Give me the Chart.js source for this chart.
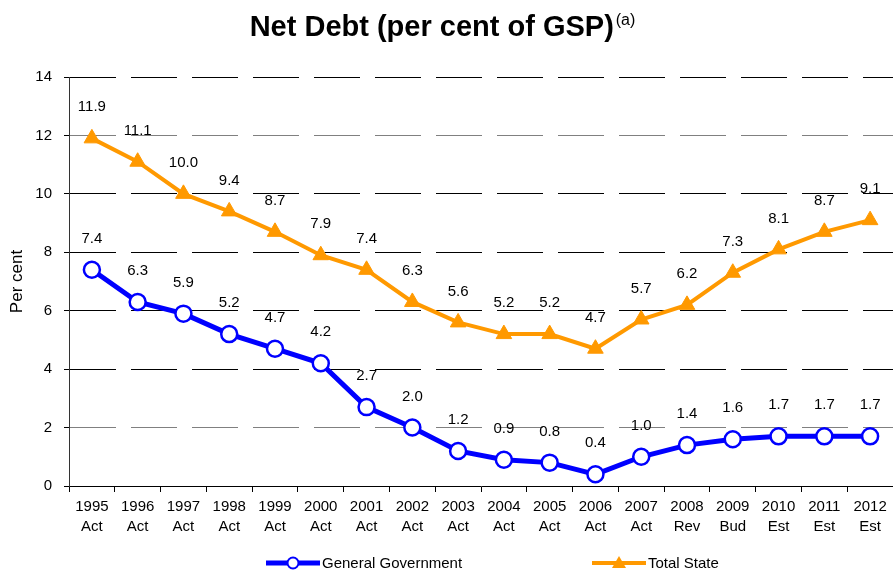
<!DOCTYPE html>
<html>
<head>
<meta charset="utf-8">
<script src="https://cdn.jsdelivr.net/npm/chart.js@4/dist/chart.umd.min.js"></script>
<style>
html,body{margin:0;padding:0;background:#fff;}
#wrap{width:893px;height:571px;position:relative;}
</style>
</head>
<body>
<div id="wrap"><canvas id="c" width="893" height="571"></canvas></div>
<script>
// ---- Data ----
const years = ['1995','1996','1997','1998','1999','2000','2001','2002','2003','2004','2005','2006','2007','2008','2009','2010','2011','2012'];
const budgetStatus = ['Act','Act','Act','Act','Act','Act','Act','Act','Act','Act','Act','Act','Act','Rev','Bud','Est','Est','Est'];
const generalGovernment = [7.4, 6.3, 5.9, 5.2, 4.7, 4.2, 2.7, 2.0, 1.2, 0.9, 0.8, 0.4, 1.0, 1.4, 1.6, 1.7, 1.7, 1.7];
const totalState = [11.9, 11.1, 10.0, 9.4, 8.7, 7.9, 7.4, 6.3, 5.6, 5.2, 5.2, 4.7, 5.7, 6.2, 7.3, 8.1, 8.7, 9.1];
const yMin = 0, yMax = 14, yStep = 2;
const chartTitle = 'Net Debt (per cent of GSP)';
const titleNote = '(a)';
const yAxisTitle = 'Per cent';
const seriesNames = ['General Government', 'Total State'];

// ---- Styles ----
const FONT = '"Liberation Sans", Arial, Helvetica, sans-serif';
const BLUE = '#0000FF';
const ORANGE = '#FF9900';

const categoryLabels = years.map((y, i) => [y, budgetStatus[i]]);

const titlePlugin = {
  id: 'titleWithNote',
  afterDraw(chart) {
    const ctx = chart.ctx;
    ctx.save();
    ctx.fillStyle = '#000';
    ctx.textBaseline = 'alphabetic';
    ctx.textAlign = 'left';
    ctx.font = 'bold 29px ' + FONT;
    const w1 = ctx.measureText(chartTitle).width;
    ctx.font = '16px ' + FONT;
    const w2 = ctx.measureText(titleNote).width;
    const total = w1 + 2 + w2;
    const x0 = chart.width / 2 - 4 - total / 2;
    ctx.font = 'bold 29px ' + FONT;
    ctx.fillText(chartTitle, x0, 36);
    ctx.font = '16px ' + FONT;
    ctx.fillText(titleNote, x0 + w1 + 2, 25);
    ctx.restore();
  }
};

const valueLabelPlugin = {
  id: 'valueLabels',
  afterDatasetsDraw(chart) {
    const ctx = chart.ctx;
    ctx.save();
    ctx.font = '15px ' + FONT;
    ctx.fillStyle = '#000';
    ctx.textAlign = 'center';
    ctx.textBaseline = 'middle';
    chart.data.datasets.forEach((ds, i) => {
      const meta = chart.getDatasetMeta(i);
      meta.data.forEach((pt, j) => {
        ctx.fillText(ds.data[j].toFixed(1), pt.x, pt.y - 31);
      });
    });
    ctx.restore();
  }
};

const legendPlugin = {
  id: 'lineLegend',
  afterDraw(chart) {
    const ctx = chart.ctx;
    const y = 563;
    const items = [
      {x: 266, color: BLUE, width: 5, style: 'circle', text: seriesNames[0]},
      {x: 592, color: ORANGE, width: 4, style: 'triangle', text: seriesNames[1]}
    ];
    ctx.save();
    items.forEach(it => {
      ctx.strokeStyle = it.color;
      ctx.lineWidth = it.width;
      ctx.lineCap = 'butt';
      ctx.beginPath();
      ctx.moveTo(it.x, y);
      ctx.lineTo(it.x + 54, y);
      ctx.stroke();
      const cx = it.x + 27;
      if (it.style === 'circle') {
        ctx.beginPath();
        ctx.arc(cx, y, 5.5, 0, Math.PI * 2);
        ctx.fillStyle = '#fff';
        ctx.fill();
        ctx.lineWidth = 2;
        ctx.strokeStyle = it.color;
        ctx.stroke();
      } else {
        ctx.beginPath();
        ctx.moveTo(cx, y - 7);
        ctx.lineTo(cx + 7, y + 5);
        ctx.lineTo(cx - 7, y + 5);
        ctx.closePath();
        ctx.fillStyle = it.color;
        ctx.fill();
      }
      ctx.fillStyle = '#000';
      ctx.font = '15px ' + FONT;
      ctx.textAlign = 'left';
      ctx.textBaseline = 'middle';
      ctx.fillText(it.text, it.x + 56, y + 1);
    });
    ctx.restore();
  }
};

new Chart(document.getElementById('c'), {
  type: 'line',
  data: {
    labels: categoryLabels,
    datasets: [
      {
        label: seriesNames[0],
        data: generalGovernment,
        borderColor: BLUE,
        backgroundColor: BLUE,
        borderWidth: 5,
        pointStyle: 'circle',
        pointRadius: 8,
        pointHoverRadius: 8,
        pointBackgroundColor: '#fff',
        pointBorderColor: BLUE,
        pointBorderWidth: 2.5,
        tension: 0,
        fill: false,
        clip: false
      },
      {
        label: seriesNames[1],
        data: totalState,
        borderColor: ORANGE,
        backgroundColor: ORANGE,
        borderWidth: 4,
        pointStyle: 'triangle',
        pointRadius: 9,
        pointHoverRadius: 9,
        pointBackgroundColor: ORANGE,
        pointBorderColor: ORANGE,
        pointBorderWidth: 1,
        tension: 0,
        fill: false,
        clip: false
      }
    ]
  },
  options: {
    responsive: false,
    animation: false,
    devicePixelRatio: 1,
    layout: { autoPadding: false, padding: { top: 77, bottom: 30, left: 0, right: -2 } },
    plugins: {
      legend: { display: false },
      title: { display: false },
      tooltip: { enabled: false }
    },
    scales: {
      x: {
        type: 'category',
        offset: true,
        grid: {
          offset: true,
          drawOnChartArea: false,
          drawTicks: true,
          tickLength: 6,
          color: '#000',
          tickColor: '#000'
        },
        border: { display: true, color: '#000', width: 1 },
        ticks: {
          color: '#000',
          font: { family: FONT, size: 15, lineHeight: 1.33 },
          padding: 5,
          maxRotation: 0,
          minRotation: 0,
          autoSkip: false
        },
        afterFit(scale) { scale.height = 55; scale.paddingRight = 0; }
      },
      y: {
        min: yMin,
        max: yMax,
        ticks: {
          stepSize: yStep,
          color: '#000',
          font: { family: FONT, size: 15 },
          padding: 12
        },
        grid: {
          drawTicks: true,
          tickLength: 5,
          tickColor: '#000',
          lineWidth: 1,
          color: ctx => {
            const v = ctx.tick ? ctx.tick.value : null;
            if (v === 0) return 'rgba(0,0,0,0)';
            if (v === 2 || v === 12) return '#808080';
            return '#000';
          }
        },
        border: { display: true, color: '#333', width: 1, dash: [46, 15] },
        title: {
          display: true,
          text: yAxisTitle,
          color: '#000',
          font: { family: FONT, size: 17 },
          padding: { top: 7, bottom: 0 }
        },
        afterFit(scale) { scale.width = 69; }
      }
    }
  },
  plugins: [titlePlugin, valueLabelPlugin, legendPlugin]
});
</script>
</body>
</html>
